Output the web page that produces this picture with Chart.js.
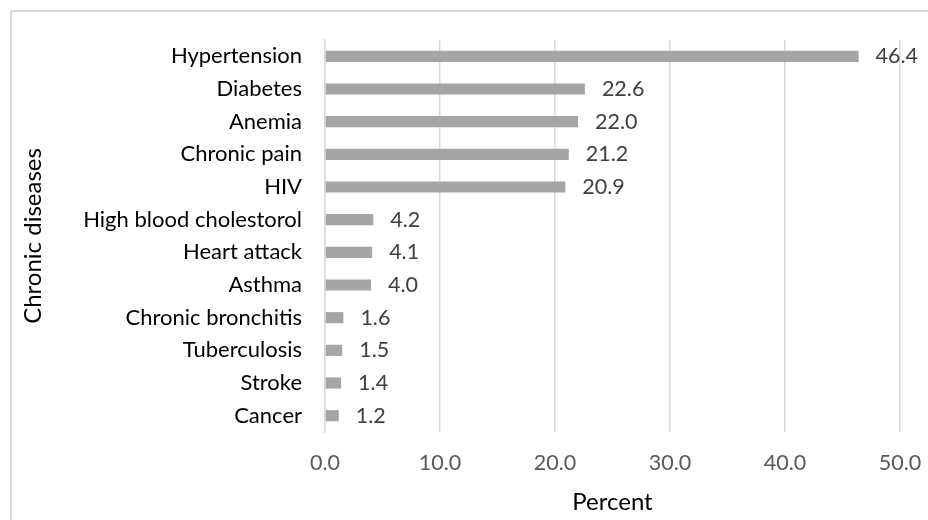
<!DOCTYPE html>
<html><head><meta charset="utf-8">
<script src="https://cdn.jsdelivr.net/npm/chart.js@4"></script>
<style>html,body{margin:0;padding:0;background:#fff;}#wrap{width:928px;height:520px;position:relative;}</style>
</head><body><div id="wrap"><canvas id="c" width="928" height="520"></canvas></div>
<script>
const categories = ['Hypertension','Diabetes','Anemia','Chronic pain','HIV','High blood cholestorol','Heart attack','Asthma','Chronic bronchitis','Tuberculosis','Stroke','Cancer'];
const percentValues = [46.4,22.6,22.0,21.2,20.9,4.2,4.1,4.0,1.6,1.5,1.4,1.2];
const xTickValues = [0,10,20,30,40,50];
const xAxisTitle = 'Percent';
const yAxisTitle = 'Chronic diseases';

const FONT = 'Lato';

const borderPlugin = {
  id: 'outerBorder',
  beforeDraw(chart) {
    const ctx = chart.ctx;
    ctx.save();
    ctx.fillStyle = '#ffffff';
    ctx.fillRect(0, 0, chart.width, chart.height);
    ctx.strokeStyle = '#d9d9d9';
    ctx.lineWidth = 2;
    ctx.strokeRect(11, 11, 1000, 1000);
    ctx.restore();
  }
};

const valueLabels = {
  id: 'valueLabels',
  afterDatasetsDraw(chart) {
    const ctx = chart.ctx;
    const meta = chart.getDatasetMeta(0);
    ctx.save();
    ctx.font = '21.5px ' + FONT;
    ctx.fillStyle = '#404040';
    ctx.textAlign = 'left';
    ctx.textBaseline = 'middle';
    meta.data.forEach((bar, i) => {
      ctx.fillText(percentValues[i].toFixed(1), bar.x + 17, bar.y);
    });
    ctx.restore();
  }
};

new Chart(document.getElementById('c'), {
  type: 'bar',
  data: {
    labels: categories,
    datasets: [{
      data: percentValues,
      backgroundColor: '#a5a5a5',
      borderWidth: 0,
      categoryPercentage: 1,
      barPercentage: 0.34
    }]
  },
  options: {
    indexAxis: 'y',
    responsive: false,
    animation: false,
    events: [],
    layout: { padding: { left: 0, top: 40, right: 28, bottom: 0 } },
    plugins: { legend: { display: false }, tooltip: { enabled: false } },
    scales: {
      x: {
        type: 'linear',
        min: 0, max: 50,
        afterBuildTicks(scale) { scale.ticks = xTickValues.map(v => ({ value: v })); },
        afterFit(scale) { scale.height = 88; scale.paddingLeft = 0; scale.paddingRight = 0; },
        ticks: {
          padding: 18,
          color: '#595959',
          font: { family: FONT, size: 21.5 },
          callback: v => Number(v).toFixed(1),
          maxRotation: 0
        },
        grid: { color: '#d9d9d9', lineWidth: 1.5, drawTicks: false },
        border: { display: false },
        title: {
          display: true, text: xAxisTitle, color: '#000000',
          font: { family: FONT, size: 24 },
          padding: { top: 0, bottom: 3 }
        }
      },
      y: {
        type: 'category',
        afterFit(scale) { scale.width = 325; scale.paddingTop = 0; scale.paddingBottom = 0; },
        ticks: {
          padding: 23,
          color: '#000000',
          font: { family: FONT, size: 22 },
          autoSkip: false
        },
        grid: { display: false, drawTicks: false },
        border: { display: true, color: '#d9d9d9', width: 1.5 },
        title: {
          display: true, text: yAxisTitle, color: '#000000',
          font: { family: FONT, size: 24 },
          padding: { top: 19, bottom: 0 }
        }
      }
    }
  },
  plugins: [borderPlugin, valueLabels]
});
</script>
</body></html>
